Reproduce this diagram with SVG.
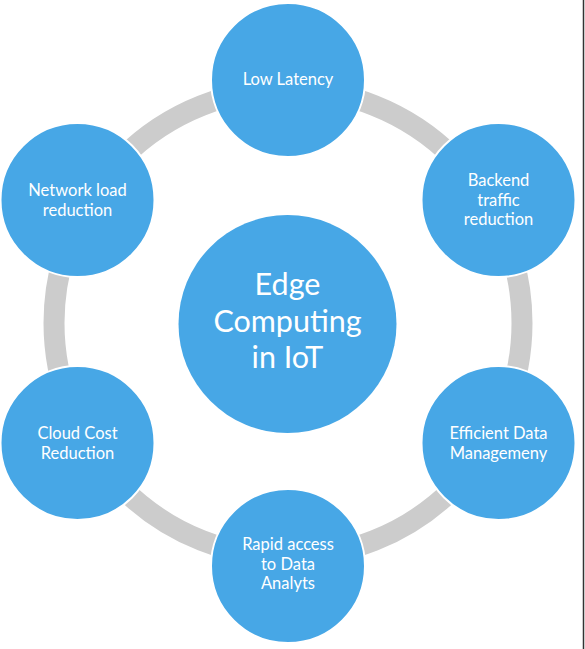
<svg xmlns="http://www.w3.org/2000/svg" width="585" height="649" viewBox="0 0 585 649">
<style>
.node{fill:#47a7e6;stroke:#ffffff;stroke-width:2}
.lbl{font-family:Lato,"Open Sans","Liberation Sans",sans-serif;font-size:16.5px;fill:#ffffff;text-anchor:middle}
.big{font-family:Lato,"Open Sans","Liberation Sans",sans-serif;font-size:30.5px;fill:#ffffff;text-anchor:middle}
</style>
<rect width="585" height="649" fill="#ffffff"/>
<g id="connectors">
<circle cx="288" cy="323" r="234" fill="none" stroke="#cccccc" stroke-width="21"/>
</g>
<g id="center">
<circle cx="287.5" cy="324" r="109" fill="#47a7e6"/>
<text class="big" x="287.5" y="295">Edge</text>
<text class="big" x="287.5" y="332">Computing</text>
<text class="big" x="287.5" y="368">in IoT</text>
</g>
<g id="low-latency">
<circle class="node" cx="288" cy="80" r="77"/>
<text class="lbl" x="288" y="85">Low Latency</text>
</g>
<g id="backend">
<circle class="node" cx="498.5" cy="200" r="77"/>
<text class="lbl" x="498.5" y="186">Backend</text>
<text class="lbl" x="498.5" y="206">traffic</text>
<text class="lbl" x="498.5" y="225">reduction</text>
</g>
<g id="efficient">
<circle class="node" cx="498.5" cy="443" r="77"/>
<text class="lbl" x="498.5" y="439">Efficient Data</text>
<text class="lbl" x="498.5" y="459">Managemeny</text>
</g>
<g id="rapid">
<circle class="node" cx="288" cy="566" r="77"/>
<text class="lbl" x="288" y="550">Rapid access</text>
<text class="lbl" x="288" y="570">to Data</text>
<text class="lbl" x="288" y="589">Analyts</text>
</g>
<g id="cloud">
<circle class="node" cx="77.5" cy="443" r="77"/>
<text class="lbl" x="77.5" y="439">Cloud Cost</text>
<text class="lbl" x="77.5" y="459">Reduction</text>
</g>
<g id="network">
<circle class="node" cx="77.5" cy="200" r="77"/>
<text class="lbl" x="77.5" y="196">Network load</text>
<text class="lbl" x="77.5" y="216">reduction</text>
</g>
<line x1="583.5" y1="0" x2="583.5" y2="649" stroke="#333333" stroke-width="1.5"/>
</svg>
